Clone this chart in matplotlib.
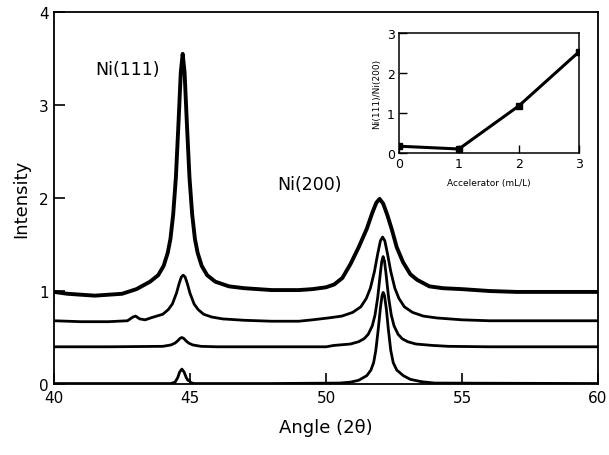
import matplotlib
matplotlib.use('Agg')
import matplotlib.pyplot as plt

# XRD patterns (2theta, intensity incl. stacking offset)
ang_a = [40.0, 40.5, 41.0, 41.5, 42.0, 42.5, 43.03, 43.53, 43.83, 44.03, 44.18, 44.28,
         44.38, 44.48, 44.58, 44.66, 44.73, 44.8, 44.88, 44.98, 45.08, 45.18, 45.28,
         45.43, 45.63, 45.93, 46.43, 47.0, 48.0, 49.0, 49.5, 50.0, 50.3, 50.6, 50.9, 51.2,
         51.5, 51.7, 51.85, 51.97, 52.1, 52.25, 52.41, 52.6, 52.83, 53.1, 53.35, 53.8,
         54.3, 55.0, 56.0, 57.0, 58.0, 59.0, 60.0]
int_a = [0.99, 0.97, 0.96, 0.95, 0.96, 0.97, 1.02, 1.10, 1.17, 1.27, 1.41, 1.56,
         1.82, 2.22, 2.83, 3.35, 3.55, 3.35, 2.83, 2.22, 1.82, 1.56, 1.41,
         1.27, 1.17, 1.10, 1.05, 1.03, 1.01, 1.01, 1.02, 1.04, 1.07, 1.14, 1.29, 1.47,
         1.67, 1.84, 1.95, 1.99, 1.94, 1.82, 1.67, 1.47, 1.31, 1.18, 1.12, 1.05,
         1.03, 1.02, 1.0, 0.99, 0.99, 0.99, 0.99]

ang_b = [40.0, 41.0, 42.0, 42.7, 42.9, 43.0, 43.15, 43.35, 43.6, 44.0, 44.2, 44.35,
         44.5, 44.6, 44.68, 44.75, 44.82, 44.9, 45.0, 45.15, 45.3, 45.5, 45.8, 46.2, 47.0,
         48.0, 49.0, 49.5, 50.08, 50.58, 50.98, 51.28, 51.48, 51.63, 51.78, 51.9, 52.0,
         52.08, 52.16, 52.26, 52.38, 52.53, 52.68, 52.88, 53.18, 53.58, 54.08, 55.0, 56.0,
         58.0, 60.0]
int_b = [0.68, 0.67, 0.67, 0.68, 0.72, 0.73, 0.70, 0.69, 0.715, 0.75, 0.80, 0.86,
         0.975, 1.08, 1.15, 1.17, 1.15, 1.08, 0.975, 0.86, 0.80, 0.75, 0.72, 0.70, 0.685,
         0.675, 0.675, 0.69, 0.71, 0.73, 0.77, 0.83, 0.92, 1.03, 1.21, 1.40, 1.54,
         1.58, 1.54, 1.40, 1.21, 1.03, 0.92, 0.83, 0.77, 0.73, 0.71, 0.69, 0.68,
         0.68, 0.68]

ang_c = [40.0, 42.0, 44.0, 44.3, 44.45, 44.55, 44.63, 44.7, 44.77, 44.85, 44.95, 45.1,
         45.4, 46.0, 48.0, 50.0, 50.3, 50.9, 51.2, 51.4, 51.55, 51.7, 51.8, 51.9, 52.0,
         52.05, 52.1, 52.15, 52.2, 52.3, 52.4, 52.5, 52.65, 52.8, 53.0, 53.3, 53.9, 54.5,
         56.0, 60.0]
int_c = [0.40, 0.40, 0.405, 0.42, 0.44, 0.465, 0.49, 0.50, 0.49, 0.465, 0.44, 0.42,
         0.405, 0.40, 0.40, 0.40, 0.415, 0.43, 0.455, 0.487, 0.534, 0.625, 0.74, 0.93, 1.20,
         1.32, 1.37, 1.32, 1.20, 0.93, 0.74, 0.625, 0.534, 0.487, 0.455, 0.43, 0.415, 0.405,
         0.40, 0.40]

ang_d = [40.0, 44.0, 44.3, 44.45, 44.55, 44.62, 44.7, 44.78, 44.86, 44.92, 44.97, 45.02,
         45.15, 48.0, 50.5, 50.9, 51.2, 51.5, 51.65, 51.75, 51.83, 51.92, 52.0, 52.06,
         52.1, 52.15, 52.22, 52.29, 52.38, 52.47, 52.6, 52.84, 53.1, 53.5, 54.0, 60.0]
int_d = [0.005, 0.005, 0.005, 0.02, 0.07, 0.13, 0.16, 0.13, 0.07, 0.04, 0.04, 0.015,
         0.005, 0.005, 0.01, 0.02, 0.04, 0.09, 0.15, 0.23, 0.36, 0.59, 0.82, 0.95,
         0.985, 0.95, 0.80, 0.59, 0.36, 0.23, 0.15, 0.09, 0.05, 0.025, 0.01, 0.005]

# inset: intensity ratio vs accelerator
accel = [0, 1, 2, 3]
ratio = [0.17, 0.1, 1.18, 2.53]

plt.rcParams['font.family'] = ['DejaVu Sans']

fig = plt.figure(figsize=(6.09, 4.56), dpi=100)
ax = fig.add_axes([0.0887, 0.1557, 0.8933, 0.8158])

ax.plot(ang_a, int_a, color='black', lw=2.8, solid_joinstyle='round')
for xs, ys in [(ang_b, int_b), (ang_c, int_c), (ang_d, int_d)]:
    ax.plot(xs, ys, color='black', lw=2.0, solid_joinstyle='round')

ax.set_xlim(40, 60)
ax.set_ylim(0, 4)
ax.set_xticks([40, 45, 50, 55, 60])
ax.set_yticks([0, 1, 2, 3, 4])
ax.tick_params(direction='in', length=8, width=1.2, labelsize=11, pad=4)
for s in ax.spines.values():
    s.set_linewidth(1.3)
ax.set_xlabel('Angle (2θ)', fontsize=13, labelpad=10)
ax.set_ylabel('Intensity', fontsize=13, labelpad=6)

ax.text(41.5, 3.39, 'Ni(111)', fontsize=12.5, va='center', ha='left')
ax.text(48.2, 2.15, 'Ni(200)', fontsize=12.5, va='center', ha='left')

ins = fig.add_axes([0.655, 0.6623, 0.2956, 0.263])
ins.plot(accel, ratio, color='black', lw=2.2, marker='s', ms=5)
ins.set_xlim(0, 3)
ins.set_ylim(0, 3)
ins.set_xticks([0, 1, 2, 3])
ins.set_yticks([0, 1, 2, 3])
ins.tick_params(direction='in', length=6, width=1.0, labelsize=9, pad=3)
for s in ins.spines.values():
    s.set_linewidth(1.1)
ins.set_xlabel('Accelerator (mL/L)', fontsize=6.5, labelpad=6)
ins.set_ylabel('Ni(111)/Ni(200)', fontsize=6.5, labelpad=4)

fig.savefig('out.png', dpi=100)
